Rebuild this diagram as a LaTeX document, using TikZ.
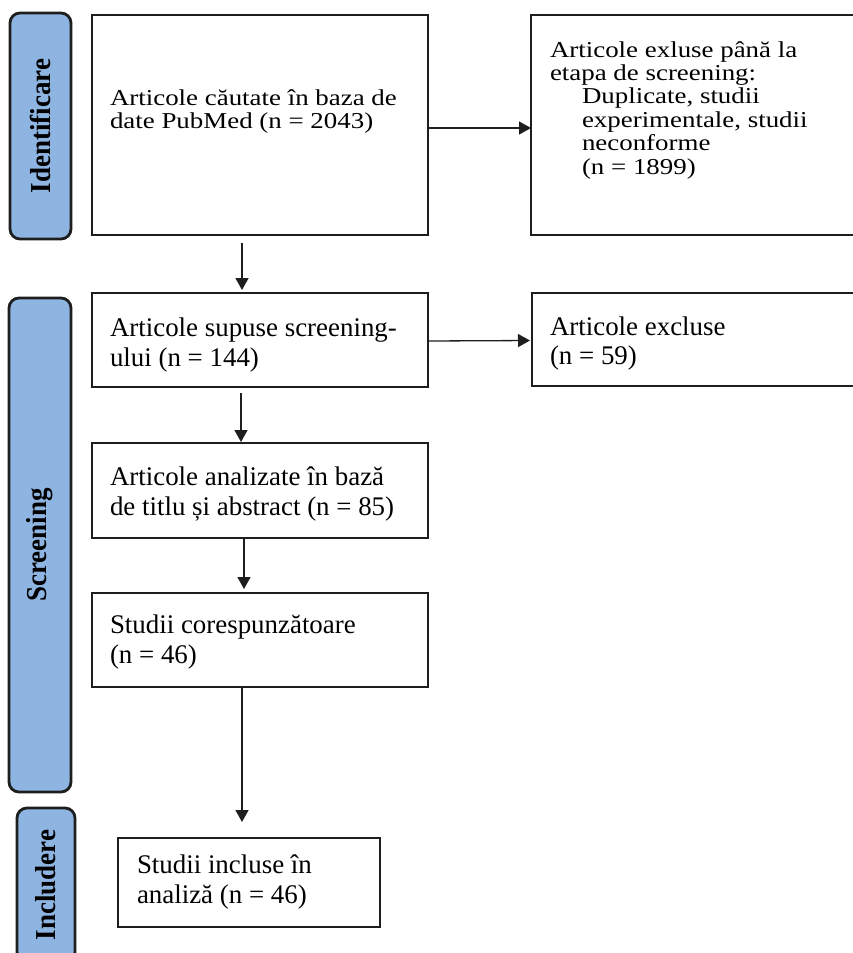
\documentclass[tikz,border=0pt]{standalone}
\usepackage{fontspec}
\setmainfont{Liberation Serif}
\usetikzlibrary{arrows.meta}
\definecolor{pillblue}{RGB}{142,180,226}
\definecolor{inkline}{RGB}{30,30,30}
\newcommand\bodyfont{\fontsize{26.9}{30}\selectfont}
\newcommand\pillfont{\fontsize{27}{30}\selectfont\bfseries}
\newcommand\tb[3]{\scalebox{1}[#1]{\vtop{\baselineskip=#2pt\lineskiplimit=-100pt #3}}}
\tikzset{
  box/.style={draw=inkline, line width=2.2pt, fill=white, inner sep=0pt, outer sep=0pt},
  pill/.style={draw=inkline, line width=2.8pt, fill=pillblue, rounded corners=10pt,
    rotate=90, inner sep=0pt, font=\pillfont},
  arr/.style={draw=inkline, line width=1.3pt, -{Triangle[length=12pt,width=13pt]}},
  txt/.style={anchor=base west, inner sep=0pt, outer sep=0pt, font=\bodyfont},
}
\begin{document}
\begin{tikzpicture}[x=1pt,y=-1pt]
\fill[white] (0,0) rectangle (852,953);
\useasboundingbox (0,0) rectangle (852,953);

% stage labels
\node[pill, minimum width=226pt, minimum height=61pt] (p1) at (40.5,126) {\scalebox{1}[1.07]{Identificare}};
\node[pill, minimum width=494pt, minimum height=62pt] (p2) at (40,545) {\scalebox{1}[1.07]{Screening}};
\node[pill, minimum width=154pt, minimum height=58pt] (p3) at (46,885) {\scalebox{1}[1.07]{Includere}};

% boxes
\node[box, minimum width=336pt, minimum height=220pt] (b1) at (260,125) {};
\node[box, minimum width=331pt, minimum height=220pt] (r1) at (696.5,125) {};
\node[box, minimum width=336pt, minimum height=94pt] (b2) at (260,340) {};
\node[box, minimum width=330pt, minimum height=93pt] (r2) at (697,339.5) {};
\node[box, minimum width=336pt, minimum height=95pt] (b3) at (260,490.5) {};
\node[box, minimum width=336pt, minimum height=94pt] (b4) at (260,640) {};
\node[box, minimum width=262pt, minimum height=89pt] (b5) at (249,882.5) {};

% texts
\node[txt] (t1) at (110,105) {\tb{0.845}{28.4}{\hbox{Articole căutate în baza de}\hbox{date PubMed (n = 2043)}}};
\node[txt] (tr1) at (550,57) {\tb{0.845}{27.7}{\hbox{Articole exluse până la}\hbox{etapa de screening:}\hbox{\hspace{32pt}Duplicate, studii}\hbox{\hspace{32pt}experimentale, studii}\hbox{\hspace{32pt}neconforme}\hbox{\hspace{32pt}(n = 1899)}}};
\node[txt] (t2) at (110,336) {\tb{1}{30}{\hbox{Articole supuse screening-}\hbox{ului (n = 144)}}};
\node[txt] (tr2) at (550,335) {\tb{1}{29}{\hbox{Articole excluse}\hbox{(n = 59)}}};
\node[txt] (t3) at (110,485) {\tb{1}{30}{\hbox{Articole analizate în bază}\hbox{de titlu și abstract (n = 85)}}};
\node[txt] (t4) at (110,633) {\tb{1}{30}{\hbox{Studii corespunzătoare}\hbox{(n = 46)}}};
\node[txt] (t5) at (137,873) {\tb{1}{30}{\hbox{Studii incluse în}\hbox{analiză (n = 46)}}};

% connectors
\draw[arr] ([yshift=-3pt]b1.east) -- ([yshift=-3pt]r1.west);
\draw[arr, shorten >=2pt] ([yshift=-1pt]b2.east) -- ([yshift=-1pt]r2.west);
\draw[arr] ([xshift=-18pt,yshift=-8pt]b1.south) -- ([xshift=-18pt,yshift=3pt]b2.north);
\draw[arr] ([xshift=-19pt,yshift=-6pt]b2.south) -- ([xshift=-19pt,yshift=1pt]b3.north);
\draw[arr] ([xshift=-16pt,yshift=-1pt]b3.south) -- ([xshift=-16pt,yshift=4pt]b4.north);
\draw[arr] ([xshift=-18pt]b4.south) -- ([xshift=-7pt,yshift=16pt]b5.north);
\end{tikzpicture}
\end{document}
